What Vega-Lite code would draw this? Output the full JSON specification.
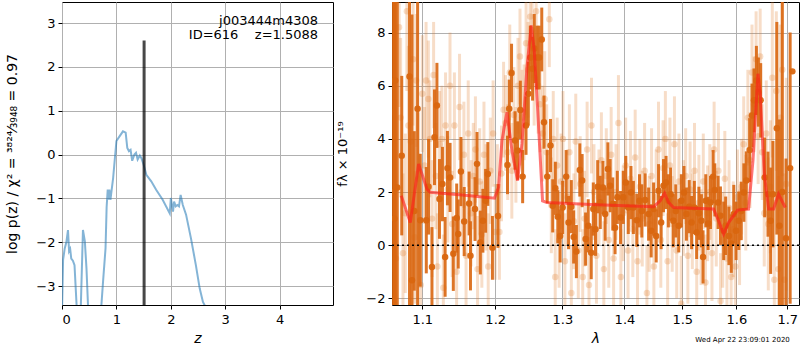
{
  "$schema": "https://vega.github.io/schema/vega-lite/v6.json",
  "padding": {"left": 5, "top": 1, "right": 1, "bottom": 2},
  "bounds": "flush",
  "spacing": 59,
  "config": {
    "font": "DejaVu Sans",
    "view": {"stroke": "black", "strokeWidth": 1},
    "axis": {
      "domain": false,
      "labelFontSize": 13,
      "labelColor": "black",
      "titleFontSize": 14,
      "titleFontWeight": "normal",
      "titleColor": "black",
      "tickColor": "black",
      "tickSize": 4,
      "grid": true,
      "gridColor": "#b0b0b0",
      "gridWidth": 1
    },
    "axisX": {"labelPadding": 4, "titlePadding": 5},
    "axisY": {"labelPadding": 3, "titlePadding": 16},
    "title": {"fontWeight": "normal"}
  },
  "datasets": {
    "pz": [
      {"z": 0.0, "logp": -3.6}, {"z": 0.02, "logp": -2.4}, {"z": 0.05, "logp": -2.14}, {"z": 0.08, "logp": -2.0},
      {"z": 0.11, "logp": -1.72}, {"z": 0.13, "logp": -2.2}, {"z": 0.15, "logp": -2.15}, {"z": 0.17, "logp": -2.37},
      {"z": 0.2, "logp": -2.42}, {"z": 0.23, "logp": -2.52}, {"z": 0.25, "logp": -3.0}, {"z": 0.275, "logp": -3.6},
      {"z": 0.3, "logp": -4.2}, {"z": 0.33, "logp": -4.0}, {"z": 0.345, "logp": -3.5}, {"z": 0.385, "logp": -1.72},
      {"z": 0.42, "logp": -1.98}, {"z": 0.45, "logp": -2.6}, {"z": 0.48, "logp": -3.5}, {"z": 0.55, "logp": -4.5},
      {"z": 0.65, "logp": -4.5}, {"z": 0.72, "logp": -3.5}, {"z": 0.76, "logp": -2.8}, {"z": 0.8, "logp": -2.14},
      {"z": 0.82, "logp": -1.2}, {"z": 0.84, "logp": -0.8}, {"z": 0.86, "logp": -1.03}, {"z": 0.87, "logp": -0.8},
      {"z": 0.89, "logp": -1.03}, {"z": 0.94, "logp": -0.53}, {"z": 1.0, "logp": 0.31}, {"z": 1.06, "logp": 0.42},
      {"z": 1.12, "logp": 0.53}, {"z": 1.17, "logp": 0.5}, {"z": 1.2, "logp": 0.15}, {"z": 1.23, "logp": 0.08},
      {"z": 1.26, "logp": 0.11}, {"z": 1.29, "logp": -0.14}, {"z": 1.33, "logp": 0.0}, {"z": 1.36, "logp": 0.04},
      {"z": 1.39, "logp": -0.11}, {"z": 1.43, "logp": -0.02}, {"z": 1.46, "logp": -0.08}, {"z": 1.5, "logp": -0.23},
      {"z": 1.55, "logp": -0.46}, {"z": 1.64, "logp": -0.61}, {"z": 1.73, "logp": -0.8}, {"z": 1.85, "logp": -1.03},
      {"z": 1.98, "logp": -1.34}, {"z": 2.0, "logp": -0.99}, {"z": 2.04, "logp": -1.3}, {"z": 2.06, "logp": -1.07},
      {"z": 2.09, "logp": -1.18}, {"z": 2.12, "logp": -1.15}, {"z": 2.15, "logp": -1.18}, {"z": 2.18, "logp": -0.92},
      {"z": 2.22, "logp": -1.15}, {"z": 2.28, "logp": -1.37}, {"z": 2.37, "logp": -1.91}, {"z": 2.46, "logp": -2.52},
      {"z": 2.53, "logp": -3.05}, {"z": 2.59, "logp": -3.36}, {"z": 2.62, "logp": -3.43}, {"z": 2.7, "logp": -3.8},
      {"z": 3.0, "logp": -5.0}
    ],
    "zbest": [{"z": 1.5088, "logp": -3.43, "hi": 2.6}],
    "lab": [
      {"z": 4.706, "logp": 3.04, "label": "j003444m4308"},
      {"z": 4.706, "logp": 2.72, "label": "ID=616\u00a0\u00a0\u00a0\u00a0z=1.5088"}
    ],
    "model": [
      {"w": 1.0728, "f": 1.86}, {"w": 1.0844, "f": 0.85}, {"w": 1.0952, "f": 3.06}, {"w": 1.0996, "f": 2.68},
      {"w": 1.1062, "f": 2.11}, {"w": 1.1105, "f": 1.99}, {"w": 1.15, "f": 1.9}, {"w": 1.199, "f": 1.77},
      {"w": 1.2048, "f": 2.17}, {"w": 1.2097, "f": 3.94}, {"w": 1.2169, "f": 5.0}, {"w": 1.2242, "f": 3.56},
      {"w": 1.2324, "f": 2.43}, {"w": 1.2389, "f": 3.81}, {"w": 1.2463, "f": 6.7}, {"w": 1.2527, "f": 8.27},
      {"w": 1.2572, "f": 7.33}, {"w": 1.2621, "f": 5.19}, {"w": 1.2697, "f": 1.67}, {"w": 1.2764, "f": 1.61},
      {"w": 1.3548, "f": 1.52}, {"w": 1.4495, "f": 1.45}, {"w": 1.461, "f": 1.67}, {"w": 1.4686, "f": 1.95},
      {"w": 1.4756, "f": 1.61}, {"w": 1.4844, "f": 1.42}, {"w": 1.557, "f": 1.36}, {"w": 1.5663, "f": 0.92},
      {"w": 1.5757, "f": 0.42}, {"w": 1.5851, "f": 0.85}, {"w": 1.6022, "f": 1.32}, {"w": 1.6233, "f": 1.36},
      {"w": 1.6319, "f": 3.18}, {"w": 1.6416, "f": 6.45}, {"w": 1.6461, "f": 5.7}, {"w": 1.654, "f": 2.68},
      {"w": 1.6626, "f": 1.36}, {"w": 1.6725, "f": 1.36}, {"w": 1.6824, "f": 1.92}, {"w": 1.696, "f": 1.42}
    ],
    "dark": [
      {"w": 1.0625, "f": 2.0, "e": 10}, {"w": 1.064, "f": 1.0, "e": 10}, {"w": 1.0651, "f": 6.2, "e": 10},
      {"w": 1.0677, "f": 2.17, "e": 10}, {"w": 1.0734, "f": 3.37, "e": 3.0}, {"w": 1.0834, "f": 6.35, "e": 10},
      {"w": 1.0866, "f": -1.32, "e": 10}, {"w": 1.0896, "f": 1.29, "e": 3.0}, {"w": 1.0939, "f": 5.13, "e": 10},
      {"w": 1.0974, "f": 0.94, "e": 2.5}, {"w": 1.1053, "f": 0.94, "e": 2.0}, {"w": 1.1083, "f": 2.2, "e": 1.8},
      {"w": 1.1128, "f": -0.82, "e": 1.5}, {"w": 1.1162, "f": 4.06, "e": 1.8}, {"w": 1.1194, "f": 5.26, "e": 1.6},
      {"w": 1.1228, "f": 1.74, "e": 1.5}, {"w": 1.1268, "f": 2.3, "e": 1.4}, {"w": 1.1304, "f": -0.44, "e": 1.5},
      {"w": 1.1335, "f": 2.9, "e": 1.4}, {"w": 1.1371, "f": 2.55, "e": 1.3}, {"w": 1.1415, "f": -0.32, "e": 1.4},
      {"w": 1.1461, "f": 1.02, "e": 1.3}, {"w": 1.1482, "f": 0.42, "e": 1.3}, {"w": 1.1519, "f": 2.77, "e": 1.3},
      {"w": 1.1564, "f": 0.89, "e": 1.3}, {"w": 1.1632, "f": 1.57, "e": 1.2}, {"w": 1.1651, "f": -0.4, "e": 1.3},
      {"w": 1.1714, "f": 1.36, "e": 1.2}, {"w": 1.1742, "f": 3.06, "e": 1.2}, {"w": 1.1789, "f": 0.1, "e": 1.2},
      {"w": 1.1825, "f": 0.92, "e": 1.2}, {"w": 1.1863, "f": 1.67, "e": 1.2}, {"w": 1.1895, "f": 2.68, "e": 1.2},
      {"w": 1.196, "f": -0.1, "e": 1.2}, {"w": 1.204, "f": 1.1, "e": 1.2}, {"w": 1.2177, "f": 3.02, "e": 1.1},
      {"w": 1.2202, "f": 5.13, "e": 1.1}, {"w": 1.2236, "f": 6.48, "e": 1.1}, {"w": 1.2287, "f": 3.94, "e": 1.1},
      {"w": 1.2325, "f": 3.56, "e": 1.1}, {"w": 1.2365, "f": 5.09, "e": 1.1}, {"w": 1.2399, "f": 2.58, "e": 1.0},
      {"w": 1.2449, "f": 4.5, "e": 1.1}, {"w": 1.2483, "f": 5.7, "e": 1.2}, {"w": 1.2513, "f": 7.06, "e": 1.2},
      {"w": 1.2547, "f": 6.64, "e": 1.2}, {"w": 1.2572, "f": 7.4, "e": 1.3}, {"w": 1.2612, "f": 7.06, "e": 1.2},
      {"w": 1.2646, "f": 7.06, "e": 1.2}, {"w": 1.2685, "f": 7.74, "e": 1.2}, {"w": 1.2719, "f": 4.63, "e": 1.0},
      {"w": 1.2768, "f": 2.58, "e": 1.0}, {"w": 1.2818, "f": 3.75, "e": 1.0}, {"w": 1.2852, "f": 1.48, "e": 1.0},
      {"w": 1.2892, "f": 2.14, "e": 1.0}, {"w": 1.293, "f": 1.07, "e": 1.0}, {"w": 1.2966, "f": 0.35, "e": 1.0},
      {"w": 1.3005, "f": 1.42, "e": 1.0}, {"w": 1.306, "f": 2.58, "e": 1.0}, {"w": 1.3097, "f": 0.85, "e": 1.0},
      {"w": 1.314, "f": 1.45, "e": 1.0}, {"w": 1.3177, "f": 0.31, "e": 1.0}, {"w": 1.322, "f": -0.24, "e": 1.0},
      {"w": 1.3274, "f": 2.83, "e": 1.0}, {"w": 1.3311, "f": 2.43, "e": 1.0}, {"w": 1.3366, "f": 0.23, "e": 1.0},
      {"w": 1.3408, "f": 0.73, "e": 1.0}, {"w": 1.3456, "f": -0.28, "e": 1.0}, {"w": 1.3489, "f": 1.36, "e": 1.0},
      {"w": 1.3525, "f": 0.6, "e": 1.0}, {"w": 1.356, "f": 2.2, "e": 1.0}, {"w": 1.3602, "f": 1.61, "e": 1.0},
      {"w": 1.3645, "f": 2.17, "e": 1.0}, {"w": 1.3682, "f": 1.17, "e": 1.0}, {"w": 1.3726, "f": 2.87, "e": 1.0},
      {"w": 1.3763, "f": 2.24, "e": 1.0}, {"w": 1.3806, "f": 1.55, "e": 1.0}, {"w": 1.3844, "f": 0.66, "e": 1.0},
      {"w": 1.3882, "f": 1.8, "e": 1.0}, {"w": 1.3935, "f": 1.04, "e": 1.0}, {"w": 1.398, "f": 1.8, "e": 1.0},
      {"w": 1.4022, "f": 2.36, "e": 1.0}, {"w": 1.4064, "f": 1.42, "e": 1.0}, {"w": 1.4109, "f": 1.98, "e": 1.0},
      {"w": 1.415, "f": 1.42, "e": 1.0}, {"w": 1.4207, "f": 0.94, "e": 1.0}, {"w": 1.4253, "f": 1.67, "e": 1.0},
      {"w": 1.4293, "f": 1.29, "e": 1.0}, {"w": 1.435, "f": 1.7, "e": 1.0}, {"w": 1.4409, "f": 1.17, "e": 1.0},
      {"w": 1.4453, "f": 0.54, "e": 1.0}, {"w": 1.4495, "f": 1.36, "e": 1.0}, {"w": 1.454, "f": 0.35, "e": 1.0},
      {"w": 1.4581, "f": 2.05, "e": 1.0}, {"w": 1.4626, "f": 0.85, "e": 1.0}, {"w": 1.4667, "f": 2.24, "e": 1.0},
      {"w": 1.4712, "f": 2.36, "e": 1.0}, {"w": 1.4753, "f": 1.67, "e": 1.0}, {"w": 1.4793, "f": 1.92, "e": 1.0},
      {"w": 1.484, "f": 0.92, "e": 1.0}, {"w": 1.4884, "f": 1.29, "e": 1.0}, {"w": 1.4936, "f": 0.73, "e": 1.0},
      {"w": 1.4983, "f": 1.67, "e": 1.0}, {"w": 1.503, "f": 1.98, "e": 1.0}, {"w": 1.5074, "f": 1.17, "e": 1.0},
      {"w": 1.5124, "f": 1.45, "e": 1.0}, {"w": 1.5167, "f": 0.85, "e": 1.0}, {"w": 1.5217, "f": 1.42, "e": 1.0},
      {"w": 1.5259, "f": 0.48, "e": 1.0}, {"w": 1.53, "f": 1.2, "e": 1.0}, {"w": 1.5346, "f": 0.92, "e": 1.0},
      {"w": 1.5376, "f": -0.44, "e": 1.0}, {"w": 1.5426, "f": 1.67, "e": 1.0}, {"w": 1.5469, "f": 0.82, "e": 1.0},
      {"w": 1.5513, "f": 1.61, "e": 1.0}, {"w": 1.5561, "f": 2.58, "e": 1.0}, {"w": 1.5593, "f": 2.08, "e": 1.0},
      {"w": 1.5654, "f": 1.61, "e": 1.0}, {"w": 1.5698, "f": 1.11, "e": 1.1}, {"w": 1.5759, "f": 0.54, "e": 1.1},
      {"w": 1.5796, "f": 0.73, "e": 1.1}, {"w": 1.5857, "f": 0.35, "e": 1.1}, {"w": 1.5902, "f": 0.06, "e": 1.1},
      {"w": 1.595, "f": 1.17, "e": 1.1}, {"w": 1.5994, "f": 0.54, "e": 1.1}, {"w": 1.6045, "f": 0.92, "e": 1.1},
      {"w": 1.6092, "f": 1.29, "e": 1.1}, {"w": 1.6143, "f": 1.98, "e": 1.1}, {"w": 1.619, "f": 2.43, "e": 1.1},
      {"w": 1.6255, "f": 3.58, "e": 1.2}, {"w": 1.63, "f": 4.88, "e": 1.2}, {"w": 1.6339, "f": 5.45, "e": 1.2},
      {"w": 1.6386, "f": 6.2, "e": 1.3}, {"w": 1.6425, "f": 5.76, "e": 1.3}, {"w": 1.647, "f": 5.45, "e": 1.4},
      {"w": 1.6549, "f": 2.55, "e": 1.5}, {"w": 1.6614, "f": 1.92, "e": 1.6}, {"w": 1.6667, "f": 0.92, "e": 2.0},
      {"w": 1.6712, "f": 1.92, "e": 2.0}, {"w": 1.679, "f": 4.4, "e": 4.0}, {"w": 1.6843, "f": 0.73, "e": 4.0},
      {"w": 1.69, "f": 2.0, "e": 10}, {"w": 1.6975, "f": 0.26, "e": 3.0}, {"w": 1.7059, "f": 2.9, "e": 5.1},
      {"w": 1.7104, "f": 6.54, "e": 0.0}
    ],
    "light": [
      {"w": 1.063, "f": 5.0, "e": 6}, {"w": 1.066, "f": -0.5, "e": 6}, {"w": 1.07, "f": 8.2, "e": 3},
      {"w": 1.072, "f": 4.8, "e": 3}, {"w": 1.075, "f": -0.3, "e": 3}, {"w": 1.078, "f": 1.2, "e": 3},
      {"w": 1.08, "f": 8.8, "e": 3}, {"w": 1.082, "f": 4.5, "e": 3}, {"w": 1.085, "f": 3.9, "e": 2.5},
      {"w": 1.088, "f": 7.0, "e": 2.5}, {"w": 1.09, "f": 0.3, "e": 2.5}, {"w": 1.092, "f": 6.2, "e": 2.5},
      {"w": 1.095, "f": 2.5, "e": 2.5}, {"w": 1.098, "f": -1.5, "e": 2.5}, {"w": 1.1, "f": 5.7, "e": 2.2},
      {"w": 1.103, "f": 3.0, "e": 2.2}, {"w": 1.105, "f": 6.2, "e": 2.2}, {"w": 1.108, "f": 5.5, "e": 2.2},
      {"w": 1.11, "f": 4.0, "e": 2.2}, {"w": 1.113, "f": 1.0, "e": 2.2}, {"w": 1.115, "f": 6.4, "e": 2.0},
      {"w": 1.118, "f": 2.6, "e": 2.0}, {"w": 1.12, "f": -0.8, "e": 2.0}, {"w": 1.123, "f": 3.8, "e": 2.0},
      {"w": 1.126, "f": 4.0, "e": 2.0}, {"w": 1.128, "f": -1.6, "e": 2.0}, {"w": 1.131, "f": 4.5, "e": 2.0},
      {"w": 1.134, "f": 2.1, "e": 2.0}, {"w": 1.137, "f": 6.0, "e": 2.0}, {"w": 1.14, "f": 0.8, "e": 2.0},
      {"w": 1.143, "f": 4.5, "e": 2.0}, {"w": 1.146, "f": -1.0, "e": 2.0}, {"w": 1.15, "f": 5.2, "e": 2.0},
      {"w": 1.153, "f": 2.0, "e": 2.0}, {"w": 1.156, "f": 3.4, "e": 2.0}, {"w": 1.159, "f": -0.4, "e": 2.0},
      {"w": 1.162, "f": 4.2, "e": 2.0}, {"w": 1.166, "f": 1.2, "e": 2.0}, {"w": 1.169, "f": 2.6, "e": 2.0},
      {"w": 1.172, "f": 3.6, "e": 2.0}, {"w": 1.175, "f": -0.9, "e": 2.0}, {"w": 1.178, "f": 2.4, "e": 2.0},
      {"w": 1.181, "f": 0.4, "e": 2.0}, {"w": 1.184, "f": 3.4, "e": 2.0}, {"w": 1.187, "f": 1.8, "e": 2.0},
      {"w": 1.19, "f": -0.8, "e": 2.0}, {"w": 1.193, "f": 2.8, "e": 2.0}, {"w": 1.197, "f": 4.2, "e": 2.0},
      {"w": 1.2, "f": 0.5, "e": 1.8}, {"w": 1.203, "f": 2.0, "e": 1.8}, {"w": 1.206, "f": 0.5, "e": 1.8},
      {"w": 1.209, "f": 2.7, "e": 1.8}, {"w": 1.212, "f": 5.1, "e": 1.8}, {"w": 1.215, "f": 4.6, "e": 1.8},
      {"w": 1.218, "f": 3.5, "e": 1.8}, {"w": 1.221, "f": 6.5, "e": 1.8}, {"w": 1.224, "f": 2.8, "e": 1.8},
      {"w": 1.227, "f": 4.9, "e": 1.8}, {"w": 1.23, "f": 3.4, "e": 1.8}, {"w": 1.233, "f": 6.0, "e": 1.8},
      {"w": 1.236, "f": 7.1, "e": 1.8}, {"w": 1.239, "f": 4.8, "e": 1.8}, {"w": 1.242, "f": 5.0, "e": 1.8},
      {"w": 1.245, "f": 7.6, "e": 1.8}, {"w": 1.248, "f": 6.6, "e": 1.8}, {"w": 1.251, "f": 8.6, "e": 1.8},
      {"w": 1.254, "f": 8.1, "e": 1.8}, {"w": 1.257, "f": 6.3, "e": 1.8}, {"w": 1.26, "f": 8.8, "e": 1.8},
      {"w": 1.263, "f": 6.0, "e": 1.8}, {"w": 1.266, "f": 5.3, "e": 1.8}, {"w": 1.27, "f": 4.2, "e": 1.8},
      {"w": 1.273, "f": 5.5, "e": 1.8}, {"w": 1.276, "f": 3.5, "e": 1.8}, {"w": 1.28, "f": 8.5, "e": 1.8},
      {"w": 1.283, "f": 1.5, "e": 1.8}, {"w": 1.286, "f": 4.0, "e": 1.8}, {"w": 1.289, "f": -1.2, "e": 1.8},
      {"w": 1.292, "f": 3.0, "e": 1.8}, {"w": 1.295, "f": 0.2, "e": 1.8}, {"w": 1.298, "f": 2.4, "e": 1.8},
      {"w": 1.301, "f": 4.0, "e": 1.8}, {"w": 1.304, "f": -0.6, "e": 1.8}, {"w": 1.308, "f": 1.8, "e": 1.8},
      {"w": 1.311, "f": 3.5, "e": 1.8}, {"w": 1.314, "f": -1.8, "e": 1.8}, {"w": 1.318, "f": 0.9, "e": 1.8},
      {"w": 1.321, "f": 3.9, "e": 1.8}, {"w": 1.325, "f": -0.2, "e": 1.8}, {"w": 1.328, "f": 2.3, "e": 1.8},
      {"w": 1.332, "f": -1.2, "e": 1.8}, {"w": 1.335, "f": 1.0, "e": 1.8}, {"w": 1.339, "f": 3.6, "e": 1.8},
      {"w": 1.342, "f": -1.5, "e": 1.8}, {"w": 1.346, "f": 4.5, "e": 1.8}, {"w": 1.35, "f": 2.0, "e": 1.8},
      {"w": 1.354, "f": -0.4, "e": 1.8}, {"w": 1.358, "f": 1.8, "e": 1.8}, {"w": 1.362, "f": 3.2, "e": 1.8},
      {"w": 1.366, "f": -0.9, "e": 1.8}, {"w": 1.37, "f": 2.6, "e": 1.8}, {"w": 1.374, "f": 0.2, "e": 1.8},
      {"w": 1.378, "f": 3.4, "e": 1.8}, {"w": 1.382, "f": -0.5, "e": 1.8}, {"w": 1.386, "f": 2.0, "e": 1.8},
      {"w": 1.39, "f": 4.6, "e": 1.8}, {"w": 1.394, "f": -1.2, "e": 1.8}, {"w": 1.398, "f": 1.2, "e": 1.8},
      {"w": 1.402, "f": 3.0, "e": 1.8}, {"w": 1.406, "f": -0.2, "e": 1.8}, {"w": 1.41, "f": 2.5, "e": 1.8},
      {"w": 1.414, "f": 0.6, "e": 1.8}, {"w": 1.418, "f": 3.3, "e": 1.8}, {"w": 1.422, "f": -0.6, "e": 1.8},
      {"w": 1.426, "f": 2.2, "e": 1.8}, {"w": 1.43, "f": 1.0, "e": 1.8}, {"w": 1.434, "f": 2.8, "e": 1.8},
      {"w": 1.438, "f": -1.8, "e": 1.8}, {"w": 1.442, "f": 0.8, "e": 1.8}, {"w": 1.446, "f": 2.6, "e": 1.8},
      {"w": 1.45, "f": -0.8, "e": 1.8}, {"w": 1.454, "f": 1.8, "e": 1.8}, {"w": 1.458, "f": 3.6, "e": 1.8},
      {"w": 1.462, "f": 0.2, "e": 1.8}, {"w": 1.466, "f": 2.9, "e": 1.8}, {"w": 1.47, "f": 4.0, "e": 1.8},
      {"w": 1.474, "f": -0.6, "e": 1.8}, {"w": 1.478, "f": 3.0, "e": 1.8}, {"w": 1.482, "f": 0.8, "e": 1.8},
      {"w": 1.486, "f": 3.8, "e": 1.8}, {"w": 1.49, "f": -0.2, "e": 1.8}, {"w": 1.494, "f": 2.4, "e": 1.8},
      {"w": 1.498, "f": -2.2, "e": 1.8}, {"w": 1.502, "f": 1.4, "e": 1.8}, {"w": 1.506, "f": 2.6, "e": 1.8},
      {"w": 1.51, "f": -0.4, "e": 1.8}, {"w": 1.514, "f": 2.1, "e": 1.8}, {"w": 1.518, "f": 0.9, "e": 1.8},
      {"w": 1.522, "f": 2.8, "e": 1.8}, {"w": 1.526, "f": -1.0, "e": 1.8}, {"w": 1.53, "f": 1.6, "e": 1.8},
      {"w": 1.534, "f": 0.3, "e": 1.8}, {"w": 1.538, "f": 2.4, "e": 1.8}, {"w": 1.542, "f": -1.4, "e": 1.8},
      {"w": 1.546, "f": 1.2, "e": 1.8}, {"w": 1.55, "f": 2.0, "e": 1.8}, {"w": 1.554, "f": -0.3, "e": 1.8},
      {"w": 1.558, "f": 3.6, "e": 1.8}, {"w": 1.562, "f": 1.0, "e": 1.8}, {"w": 1.566, "f": 2.8, "e": 1.8},
      {"w": 1.57, "f": -2.1, "e": 1.8}, {"w": 1.574, "f": 0.2, "e": 1.8}, {"w": 1.578, "f": 2.5, "e": 1.8},
      {"w": 1.582, "f": -0.5, "e": 1.8}, {"w": 1.586, "f": 1.4, "e": 1.8}, {"w": 1.59, "f": -1.2, "e": 1.8},
      {"w": 1.594, "f": 0.6, "e": 1.8}, {"w": 1.598, "f": -0.8, "e": 1.8}, {"w": 1.602, "f": 1.8, "e": 1.8},
      {"w": 1.606, "f": 0.3, "e": 1.8}, {"w": 1.61, "f": 2.2, "e": 1.8}, {"w": 1.614, "f": 3.8, "e": 1.8},
      {"w": 1.618, "f": 1.6, "e": 1.8}, {"w": 1.622, "f": 4.8, "e": 1.8}, {"w": 1.626, "f": 3.2, "e": 1.8},
      {"w": 1.63, "f": 6.5, "e": 1.8}, {"w": 1.634, "f": 5.3, "e": 1.8}, {"w": 1.638, "f": 7.0, "e": 1.8},
      {"w": 1.642, "f": 4.1, "e": 1.8}, {"w": 1.646, "f": 7.1, "e": 1.8}, {"w": 1.65, "f": 3.5, "e": 1.8},
      {"w": 1.654, "f": 1.2, "e": 2.0}, {"w": 1.658, "f": 4.2, "e": 2.0}, {"w": 1.662, "f": 0.8, "e": 2.5},
      {"w": 1.666, "f": 2.2, "e": 2.5}, {"w": 1.67, "f": 6.3, "e": 3.0}, {"w": 1.674, "f": -1.3, "e": 3.0},
      {"w": 1.678, "f": 5.8, "e": 3.0}, {"w": 1.682, "f": -0.9, "e": 3.5}, {"w": 1.686, "f": 4.8, "e": 3.5},
      {"w": 1.69, "f": 6.6, "e": 4.0}, {"w": 1.694, "f": -1.3, "e": 4.0}, {"w": 1.698, "f": 2.3, "e": 4.0}
    ]
  },
  "hconcat": [
    {
      "width": 271,
      "height": 303,
      "layer": [
        {
          "data": {"name": "pz"},
          "mark": {"type": "line", "color": "#1f77b4", "opacity": 0.55, "strokeWidth": 2, "clip": true},
          "encoding": {
            "x": {"field": "z", "type": "quantitative", "title": "z", "scale": {"domain": [0, 4.98], "nice": false, "zero": false},
                  "axis": {"values": [0, 1, 2, 3, 4], "format": "d", "titleFontStyle": "italic"}},
            "y": {"field": "logp", "type": "quantitative", "title": "log p(z) / χ² = ³⁸²⁴⁄₃₉₄₈ = 0.97", "scale": {"domain": [-3.43, 3.48], "nice": false, "zero": false},
                  "axis": {"values": [-3, -2, -1, 0, 1, 2, 3], "format": "d"}}
          }
        },
        {
          "data": {"name": "zbest"},
          "mark": {"type": "rule", "color": "black", "opacity": 0.72, "strokeWidth": 3},
          "encoding": {
            "x": {"field": "z", "type": "quantitative", "title": "z", "scale": {"domain": [0, 4.98], "nice": false, "zero": false}},
            "y": {"field": "logp", "type": "quantitative", "title": "log p(z) / χ² = ³⁸²⁴⁄₃₉₄₈ = 0.97", "scale": {"domain": [-3.43, 3.48], "nice": false, "zero": false}},
            "y2": {"field": "hi"}
          }
        },
        {
          "data": {"name": "lab"},
          "mark": {"type": "text", "align": "right", "baseline": "middle", "fontSize": 13, "color": "black"},
          "encoding": {
            "x": {"field": "z", "type": "quantitative", "title": "z", "scale": {"domain": [0, 4.98], "nice": false, "zero": false}},
            "y": {"field": "logp", "type": "quantitative", "title": "log p(z) / χ² = ³⁸²⁴⁄₃₉₄₈ = 0.97", "scale": {"domain": [-3.43, 3.48], "nice": false, "zero": false}},
            "text": {"field": "label"}
          }
        }
      ]
    },
    {
      "width": 407,
      "height": 303,
      "title": {"text": "Wed Apr 22 23:09:01 2020", "orient": "bottom", "anchor": "end", "fontSize": 7, "fontWeight": "normal", "offset": -9, "dx": -10},
      "layer": [
        {
          "data": {"name": "light"},
          "mark": {"type": "errorbar", "color": "#e07b2a", "opacity": 0.26, "thickness": 3, "clip": true},
          "encoding": {
            "x": {"field": "w", "type": "quantitative", "title": "λ", "scale": {"type": "log", "domain": [1.061, 1.724], "nice": false, "zero": false},
                  "axis": {"values": [1.1, 1.2, 1.3, 1.4, 1.5, 1.6, 1.7], "format": ".1f", "titleFontStyle": "italic"}},
            "y": {"field": "f", "type": "quantitative", "title": "fλ × 10⁻¹⁹", "scale": {"domain": [-2.25, 9.15], "nice": false, "zero": false},
                  "axis": {"values": [-2, 0, 2, 4, 6, 8], "format": "d", "titleFontSize": 13}},
            "yError": {"field": "e"}
          }
        },
        {
          "data": {"name": "light"},
          "mark": {"type": "circle", "color": "#e07b2a", "opacity": 0.26, "size": 42, "clip": true},
          "encoding": {
            "x": {"field": "w", "type": "quantitative", "title": "λ", "scale": {"type": "log", "domain": [1.061, 1.724], "nice": false, "zero": false}},
            "y": {"field": "f", "type": "quantitative", "title": "fλ × 10⁻¹⁹", "scale": {"domain": [-2.25, 9.15], "nice": false, "zero": false}}
          }
        },
        {
          "data": {"name": "dark"},
          "mark": {"type": "errorbar", "color": "#d9660f", "opacity": 0.9, "thickness": 3, "clip": true},
          "encoding": {
            "x": {"field": "w", "type": "quantitative", "title": "λ", "scale": {"type": "log", "domain": [1.061, 1.724], "nice": false, "zero": false}},
            "y": {"field": "f", "type": "quantitative", "title": "fλ × 10⁻¹⁹", "scale": {"domain": [-2.25, 9.15], "nice": false, "zero": false}},
            "yError": {"field": "e"}
          }
        },
        {
          "data": {"name": "dark"},
          "mark": {"type": "circle", "color": "#d9660f", "opacity": 0.95, "size": 42, "clip": true},
          "encoding": {
            "x": {"field": "w", "type": "quantitative", "title": "λ", "scale": {"type": "log", "domain": [1.061, 1.724], "nice": false, "zero": false}},
            "y": {"field": "f", "type": "quantitative", "title": "fλ × 10⁻¹⁹", "scale": {"domain": [-2.25, 9.15], "nice": false, "zero": false}}
          }
        },
        {
          "data": {"name": "model"},
          "mark": {"type": "line", "color": "#ff1a1a", "opacity": 0.6, "strokeWidth": 3, "clip": true},
          "encoding": {
            "x": {"field": "w", "type": "quantitative", "title": "λ", "scale": {"type": "log", "domain": [1.061, 1.724], "nice": false, "zero": false}},
            "y": {"field": "f", "type": "quantitative", "title": "fλ × 10⁻¹⁹", "scale": {"domain": [-2.25, 9.15], "nice": false, "zero": false}}
          }
        },
        {
          "data": {"values": [{"f": 0}]},
          "mark": {"type": "rule", "color": "black", "strokeWidth": 1.6, "strokeDash": [2, 3]},
          "encoding": {
            "y": {"field": "f", "type": "quantitative", "title": "fλ × 10⁻¹⁹", "scale": {"domain": [-2.25, 9.15], "nice": false, "zero": false}}
          }
        }
      ]
    }
  ]
}
